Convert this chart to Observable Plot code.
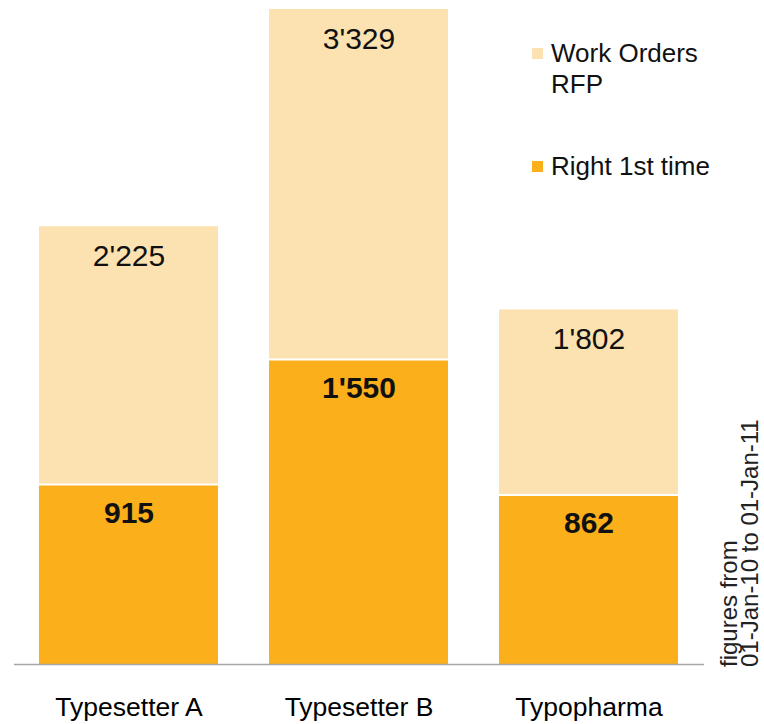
<!DOCTYPE html>
<html>
<head>
<meta charset="utf-8">
<script src="https://cdn.jsdelivr.net/npm/d3@7"></script>
<script src="https://cdn.jsdelivr.net/npm/@observablehq/plot@0.6"></script>
<style>
  html, body { margin: 0; padding: 0; background: #fff; }
  #wrap { position: relative; width: 764px; height: 724px; font-family: "Liberation Sans", Arial, sans-serif; }
  #overlay { position: absolute; left: 0; top: 0; pointer-events: none; }
</style>
</head>
<body>
<div id="wrap"></div>
<script>
// Data
const categories = ["Typesetter A", "Typesetter B", "Typopharma"];
const workOrdersRFP = [2225, 3329, 1802];
const rightFirstTime = [915, 1550, 862];
const seriesNames = ["Work Orders\nRFP", "Right 1st time"];
const seriesColors = ["#FDE2B1", "#FBAF1A"];
const captionLines = ["figures from", "01-Jan-10 to 01-Jan-11"];

const rows = categories.map((c, i) => ({cat: c, rfp: workOrdersRFP[i], right: rightFirstTime[i]}));
const fmt = d3.formatLocale({decimal: ".", thousands: "'", grouping: [3], currency: ["", ""]}).format(",d");

const chart = Plot.plot({
  width: 764,
  height: 724,
  marginTop: 9,
  marginBottom: 60,
  marginLeft: 14,
  marginRight: 60,
  style: {fontFamily: "'Liberation Sans', Arial, sans-serif", background: "#fff", color: "#000"},
  x: {domain: categories, paddingInner: 0.22, paddingOuter: 0.11, label: null},
  y: {domain: [0, d3.max(workOrdersRFP)], axis: null},
  marks: [
    Plot.barY(rows, {x: "cat", y: "rfp", fill: seriesColors[0]}),
    Plot.barY(rows, {x: "cat", y: "right", fill: seriesColors[1]}),
    Plot.tickY(rows, {x: "cat", y: "right", stroke: "#fff", strokeWidth: 2}),
    Plot.ruleY([0], {stroke: "#a6a6a6", strokeWidth: 1.5}),
    Plot.text(rows, {x: "cat", y: "rfp", text: d => fmt(d.rfp), lineAnchor: "top", dy: 18, fontSize: 30, fill: "#111"}),
    Plot.text(rows, {x: "cat", y: "right", text: d => fmt(d.right), lineAnchor: "top", dy: 17, fontSize: 30, fontWeight: "bold", fill: "#111"}),
    Plot.axisX({tickSize: 0, tickPadding: 33, fontSize: 26.5, fill: "#000", label: null})
  ]
});
document.getElementById("wrap").appendChild(chart);

// Legend and caption overlay
const svg = d3.select("#wrap").append("svg")
  .attr("id", "overlay").attr("width", 764).attr("height", 724)
  .style("font-family", "'Liberation Sans', Arial, sans-serif");

const legendItems = [
  {name: seriesNames[0], color: seriesColors[0], sq: [532, 48], base: 62},
  {name: seriesNames[1], color: seriesColors[1], sq: [532, 161], base: 175}
];
legendItems.forEach(item => {
  svg.append("rect").attr("x", item.sq[0]).attr("y", item.sq[1]).attr("width", 11).attr("height", 11).attr("fill", item.color);
  const t = svg.append("text").attr("x", 551).attr("y", item.base).attr("font-size", 26).attr("fill", "#111");
  item.name.split("\n").forEach((line, i) => {
    t.append("tspan").attr("x", 551).attr("dy", i === 0 ? 0 : 31).text(line);
  });
});

const capBase = [737, 758];
captionLines.forEach((line, i) => {
  svg.append("text")
    .attr("transform", `translate(${capBase[i]},667) rotate(-90)`)
    .attr("font-size", 24)
    .attr("fill", "#222")
    .attr("text-anchor", "start")
    .text(line);
});
</script>
</body>
</html>
